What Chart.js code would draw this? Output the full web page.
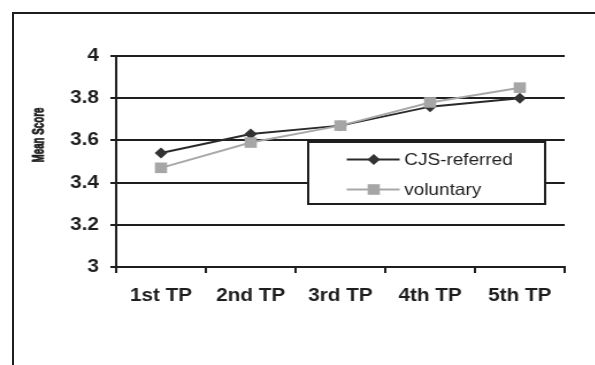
<!DOCTYPE html>
<html>
<head>
<meta charset="utf-8">
<script src="https://cdn.jsdelivr.net/npm/chart.js@4/dist/chart.umd.min.js"></script>
<style>
  html, body { margin: 0; padding: 0; background: #fff; width: 595px; height: 365px; overflow: hidden; }
  #frame { position: absolute; left: 12px; top: 12px; right: -4px; bottom: -4px;
           border-left: 2px solid #1e1e1e; border-top: 2px solid #1e1e1e; }
  /* the chart is laid out narrow and widened horizontally */
  #wrap { position: absolute; left: 0; top: 0; width: 517px; height: 365px;
          transform: scaleX(1.15); transform-origin: 0 0; }
</style>
</head>
<body>
<div id="frame"></div>
<div id="wrap"><canvas id="c" width="517" height="365"></canvas></div>
<script>
const categories = ['1st TP', '2nd TP', '3rd TP', '4th TP', '5th TP'];
const cjsReferred = [3.54, 3.63, 3.67, 3.76, 3.80];
const voluntary = [3.47, 3.59, 3.67, 3.78, 3.85];
const seriesNames = ['CJS-referred', 'voluntary'];
const yTicks = [3, 3.2, 3.4, 3.6, 3.8, 4];
const yTitle = 'Mean Score';

const INK = '#1e1e1e';
const DARK = '#333333';
const GREY = '#a6a6a6';

function marker(ctx, style, x, y, r, color) {
  ctx.save();
  ctx.fillStyle = color;
  ctx.beginPath();
  if (style === 'rectRot') {
    ctx.moveTo(x, y - r); ctx.lineTo(x + r, y); ctx.lineTo(x, y + r); ctx.lineTo(x - r, y);
    ctx.closePath();
  } else {
    const s = r * Math.SQRT1_2;
    ctx.rect(x - s, y - s, 2 * s, 2 * s);
  }
  ctx.fill();
  ctx.restore();
}

// boxed legend inside the plot plus the rotated axis title
const decorations = {
  id: 'decorations',
  afterDatasetsDraw(chart) {
    const ctx = chart.ctx;
    const bx = 268, by = 142, bw = 206, bh = 62;
    ctx.save();
    ctx.fillStyle = '#fff';
    ctx.fillRect(bx, by, bw, bh);
    ctx.strokeStyle = INK;
    ctx.lineWidth = 2;
    ctx.strokeRect(bx, by, bw, bh);
    const rows = [159.5, 189.5];
    chart.data.datasets.forEach((ds, i) => {
      const y = rows[i];
      ctx.strokeStyle = ds.borderColor;
      ctx.lineWidth = 2;
      ctx.beginPath();
      ctx.moveTo(301.5, y); ctx.lineTo(347.5, y);
      ctx.stroke();
      marker(ctx, ds.pointStyle, 325, y, ds.pointRadius, ds.pointBackgroundColor);
      ctx.fillStyle = INK;
      ctx.font = '16.5px "Liberation Sans", Arial, sans-serif';
      ctx.textAlign = 'left';
      ctx.textBaseline = 'middle';
      ctx.fillText(ds.label, 351.5, y + 0.5);
    });
    ctx.restore();
  },
  afterDraw(chart) {
    const ctx = chart.ctx;
    ctx.save();
    ctx.translate(33.5, 135);
    ctx.rotate(-Math.PI / 2);
    ctx.scale(0.63, 1);
    ctx.fillStyle = INK;
    ctx.strokeStyle = INK;
    ctx.lineWidth = 0.8;
    ctx.font = 'bold 15.5px "Liberation Sans", Arial, sans-serif';
    ctx.textAlign = 'center';
    ctx.textBaseline = 'middle';
    ctx.fillText(yTitle, 0, 0);
    ctx.strokeText(yTitle, 0, 0);
    ctx.restore();
  }
};

new Chart(document.getElementById('c'), {
  type: 'line',
  data: {
    labels: categories,
    datasets: [
      {
        label: seriesNames[0], data: cjsReferred, order: 1,
        borderColor: '#2a2a2a', borderWidth: 2, tension: 0,
        pointStyle: 'rectRot', pointRadius: 5.5, pointHoverRadius: 5.5,
        pointBackgroundColor: DARK, pointBorderColor: DARK, pointBorderWidth: 0
      },
      {
        label: seriesNames[1], data: voluntary, order: 0,
        borderColor: '#a8a8a8', borderWidth: 2, tension: 0,
        pointStyle: 'rect', pointRadius: 7.5, pointHoverRadius: 7.5,
        pointBackgroundColor: GREY, pointBorderColor: GREY, pointBorderWidth: 0
      }
    ]
  },
  options: {
    responsive: false,
    animation: false,
    events: [],
    clip: false,
    layout: { padding: { top: 56, right: 26, left: 0, bottom: 0 } },
    plugins: { legend: { display: false }, tooltip: { enabled: false } },
    scales: {
      x: {
        type: 'category',
        offset: true,
        grid: { offset: true, drawOnChartArea: false, drawTicks: true, tickLength: 6, color: INK, lineWidth: 2 },
        border: { color: INK, width: 2 },
        ticks: {
          color: INK, padding: 12, maxRotation: 0, autoSkip: false,
          font: { family: '"Liberation Sans", Arial, sans-serif', size: 18, weight: 'bold' }
        },
        afterFit(s) { s.height = 98; }
      },
      y: {
        min: 3, max: 4,
        afterBuildTicks(s) { s.ticks = yTicks.map(v => ({ value: v })); },
        grid: { color: INK, lineWidth: 2, tickLength: 5, drawTicks: true },
        border: { color: INK, width: 2 },
        ticks: {
          color: INK, padding: 10,
          font: { family: '"Liberation Sans", Arial, sans-serif', size: 18, weight: 'bold' },
          callback: v => String(Number(Number(v).toFixed(1)))
        },
        afterFit(s) { s.width = 101; }
      }
    }
  },
  plugins: [decorations]
});
</script>
</body>
</html>
